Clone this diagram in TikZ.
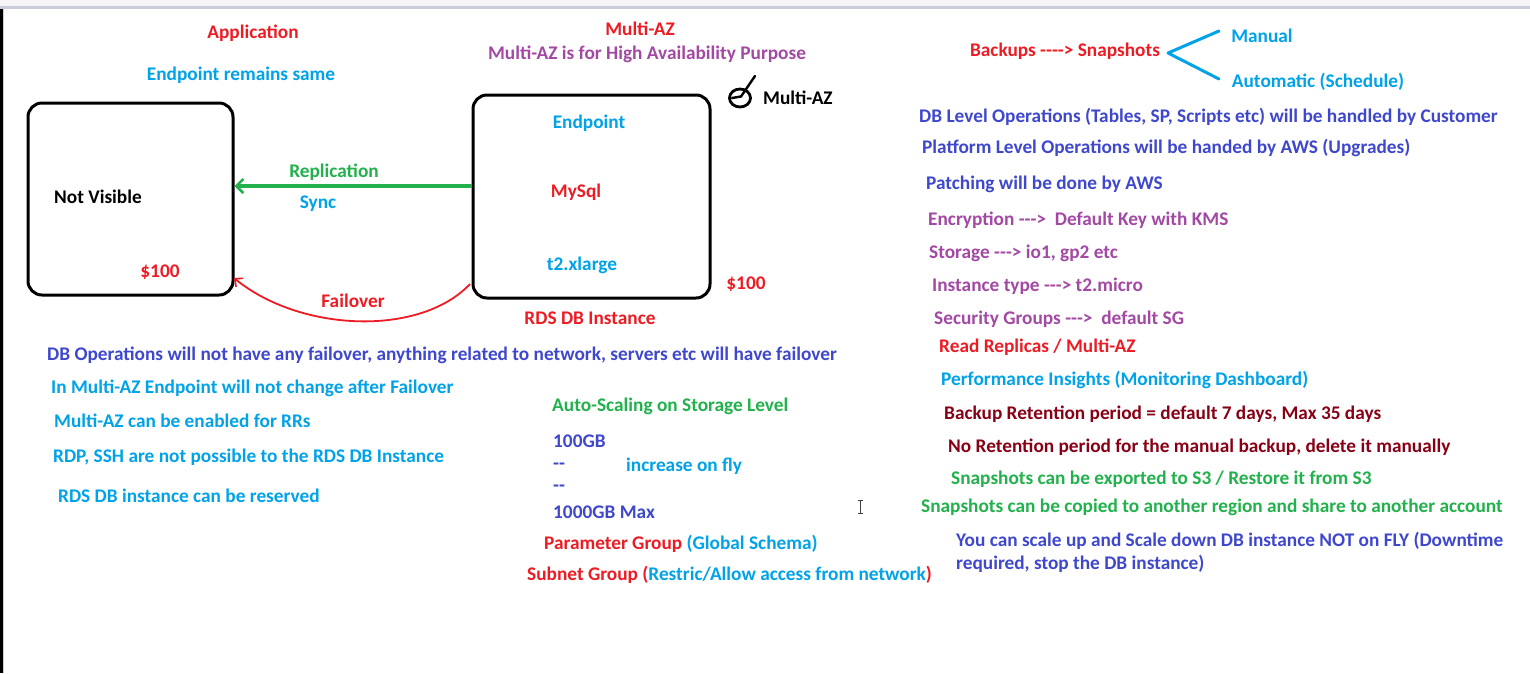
\documentclass[tikz,border=0pt]{standalone}
\usepackage{fontspec}
\setmainfont{Carlito}[Ligatures=TeXOff]
\usetikzlibrary{arrows.meta,calc}
\definecolor{pred}{HTML}{ED1C24}
\definecolor{psky}{HTML}{00A2E8}
\definecolor{pind}{HTML}{3F48CC}
\definecolor{ppur}{HTML}{A349A4}
\definecolor{pdred}{HTML}{880015}
\definecolor{pgreen}{HTML}{22B14C}
\definecolor{frame}{RGB}{200,204,218}
\tikzset{
  txt/.style={inner sep=0pt, anchor=west, yshift=-1pt, font=\fontsize{19.3}{23}\selectfont\bfseries},
  ctxt/.style={inner sep=0pt, anchor=center, yshift=-1pt, font=\fontsize{19.3}{23}\selectfont\bfseries},
  dbbox/.style={draw=black, line width=3pt, rounded corners=14pt, minimum width=#1, inner sep=0pt},
}
\begin{document}
\begin{tikzpicture}[x=1pt,y=-1pt]
\useasboundingbox (0,0) rectangle (1530,673);
\fill[white] (0,0) rectangle (1530,673);
% top strip of the window
\fill[black!4] (0,0) rectangle (1530,6);
\fill[frame] (0,6) rectangle (1530,9);
\fill[black] (0,9) rectangle (2.5,673);
\fill[frame] (2.5,9) rectangle (4,673);

% left column top
\node[ctxt, text=pred] (app) at (253,32) {Application};
\node[ctxt, text=psky] (eprs) at (241,74) {Endpoint remains same};

% boxes
\node[dbbox=205pt, minimum height=192pt] (lbox) at (130.5,199) {};
\node[dbbox=237pt, minimum height=203pt] (rbox) at (591.5,196.5) {};
\node[ctxt] (nv) at (98,196) {Not Visible};
\node[ctxt, text=pred] (lcost) at (160,271) {\$100};
\node[ctxt, text=psky] (ep) at (589,122) {Endpoint};
\node[ctxt, text=pred] (mysql) at (576,191) {MySql};
\node[ctxt, text=psky] (t2) at (582,264) {t2.xlarge};
\node[ctxt, text=pred] (rds) at (590,317) {RDS DB Instance};
\node[ctxt, text=pred] (rcost) at (746,283) {\$100};

% replication arrow
\coordinate (ry) at (0,186);
\draw[pgreen, line width=3.5pt, -{Straight Barb[length=7pt,width=14pt,line width=2.5pt]}] (rbox.west |- ry) -- (lbox.east |- ry);
\node[ctxt, text=pgreen] (repl) at (334,171) {Replication};
\node[ctxt, text=psky] (sync) at (318,203) {Sync};

% failover arrow
\coordinate (fs) at (470,284);
\coordinate (fe) at (234,278);
\draw[pred, line width=1.8pt, -{Straight Barb[length=6pt,width=11pt,line width=1.6pt]}] (fs) .. controls (420,337) and (300,332) .. (fe);
\node[ctxt, text=pred] (fail) at (353,300) {Failover};

% Multi-AZ header
\node[ctxt, text=pred] (maz) at (640,28) {Multi-AZ};
\node[ctxt, text=ppur] (mazha) at (647,53) {Multi-AZ is for High Availability Purpose};

% check icon
\draw[black, line width=2.8pt] (740,98) ellipse (10.5pt and 9pt);
\draw[black, line width=2.4pt, line cap=round, line join=round] (732,98) -- (741,96.5) -- (755,76);
\node[txt] (mazck) at (763,97) {Multi-AZ};

% backups
\node[ctxt, text=pred] (bk) at (1065,50) {Backups ----> Snapshots};
\coordinate (bv) at (1168,53);
\coordinate (bt) at (1219,31);
\coordinate (bb) at (1219,79);
\draw[psky, line width=3pt, line cap=round, line join=round] (bt) -- (bv) -- (bb);
\node[ctxt, text=psky] (man) at (1262,35) {Manual};
\node[ctxt, text=psky] (auto) at (1318,81) {Automatic (Schedule)};

% right column
\node[txt, text=pind] (r1) at (919,116) {DB Level Operations (Tables, SP, Scripts etc) will be handled by Customer};
\node[txt, text=pind] (r2) at (922,147) {Platform Level Operations will be handed by AWS (Upgrades)};
\node[txt, text=pind] (r3) at (926,183) {Patching will be done by AWS};
\node[txt, text=ppur] (r4) at (928,219) {Encryption --->\ \ Default Key with KMS};
\node[txt, text=ppur] (r5) at (929,252) {Storage ---> io1, gp2 etc};
\node[txt, text=ppur] (r6) at (932,285) {Instance type ---> t2.micro};
\node[txt, text=ppur] (r7) at (934,318) {Security Groups --->\ \ default SG};
\node[txt, text=pred] (r8) at (939,346) {Read Replicas / Multi-AZ};
\node[txt, text=psky] (r9) at (941,379) {Performance Insights (Monitoring Dashboard)};
\node[txt, text=pdred] (r10) at (944,413) {Backup Retention period = default 7 days, Max 35 days};
\node[txt, text=pdred] (r11) at (948,446) {No Retention period for the manual backup, delete it manually};
\node[txt, text=pgreen] (r12) at (951,478) {Snapshots can be exported to S3 / Restore it from S3};
\node[txt, text=pgreen] (r13) at (921,506) {Snapshots can be copied to another region and share to another account};
\node[txt, text=pind] (r14) at (956,540) {You can scale up and Scale down DB instance NOT on FLY (Downtime};
\node[txt, text=pind] (r15) at (956,563) {required, stop the DB instance)};

% left bottom
\node[txt, text=pind] (l1) at (47,354) {DB Operations will not have any failover, anything related to network, servers etc will have failover};
\node[txt, text=psky] (l2) at (51,387) {In Multi-AZ Endpoint will not change after Failover};
\node[txt, text=psky] (l3) at (54,420) {Multi-AZ can be enabled for RRs};
\node[txt, text=psky] (l4) at (53,456) {RDP, SSH are not possible to the RDS DB Instance};
\node[txt, text=psky] (l5) at (58,495) {RDS DB instance can be reserved};

% middle
\node[txt, text=pgreen] (m1) at (552,405) {Auto-Scaling on Storage Level};
\node[txt, text=pind] (m2) at (553,440) {100GB};
\node[txt, text=pind] (m3) at (553,465) {--};
\node[txt, text=psky] (m4) at (626,465) {increase on fly};
\node[txt, text=pind] (m5) at (553,487) {--};
\node[txt, text=pind] (m6) at (553,511) {1000GB Max};
\node[txt] (m7) at (544,543) {\textcolor{pred}{Parameter Group} \textcolor{psky}{(Global Schema)}};
\node[txt] (m8) at (527,574) {\textcolor{pred}{Subnet Group (}\textcolor{psky}{Restric/Allow access from network}\textcolor{pred}{)}};

% text cursor
\draw[black!75, line width=0.9pt] (860,500) -- (860,513) (857.5,500) -- (862.5,500) (857.5,513) -- (862.5,513);
\end{tikzpicture}
\end{document}
